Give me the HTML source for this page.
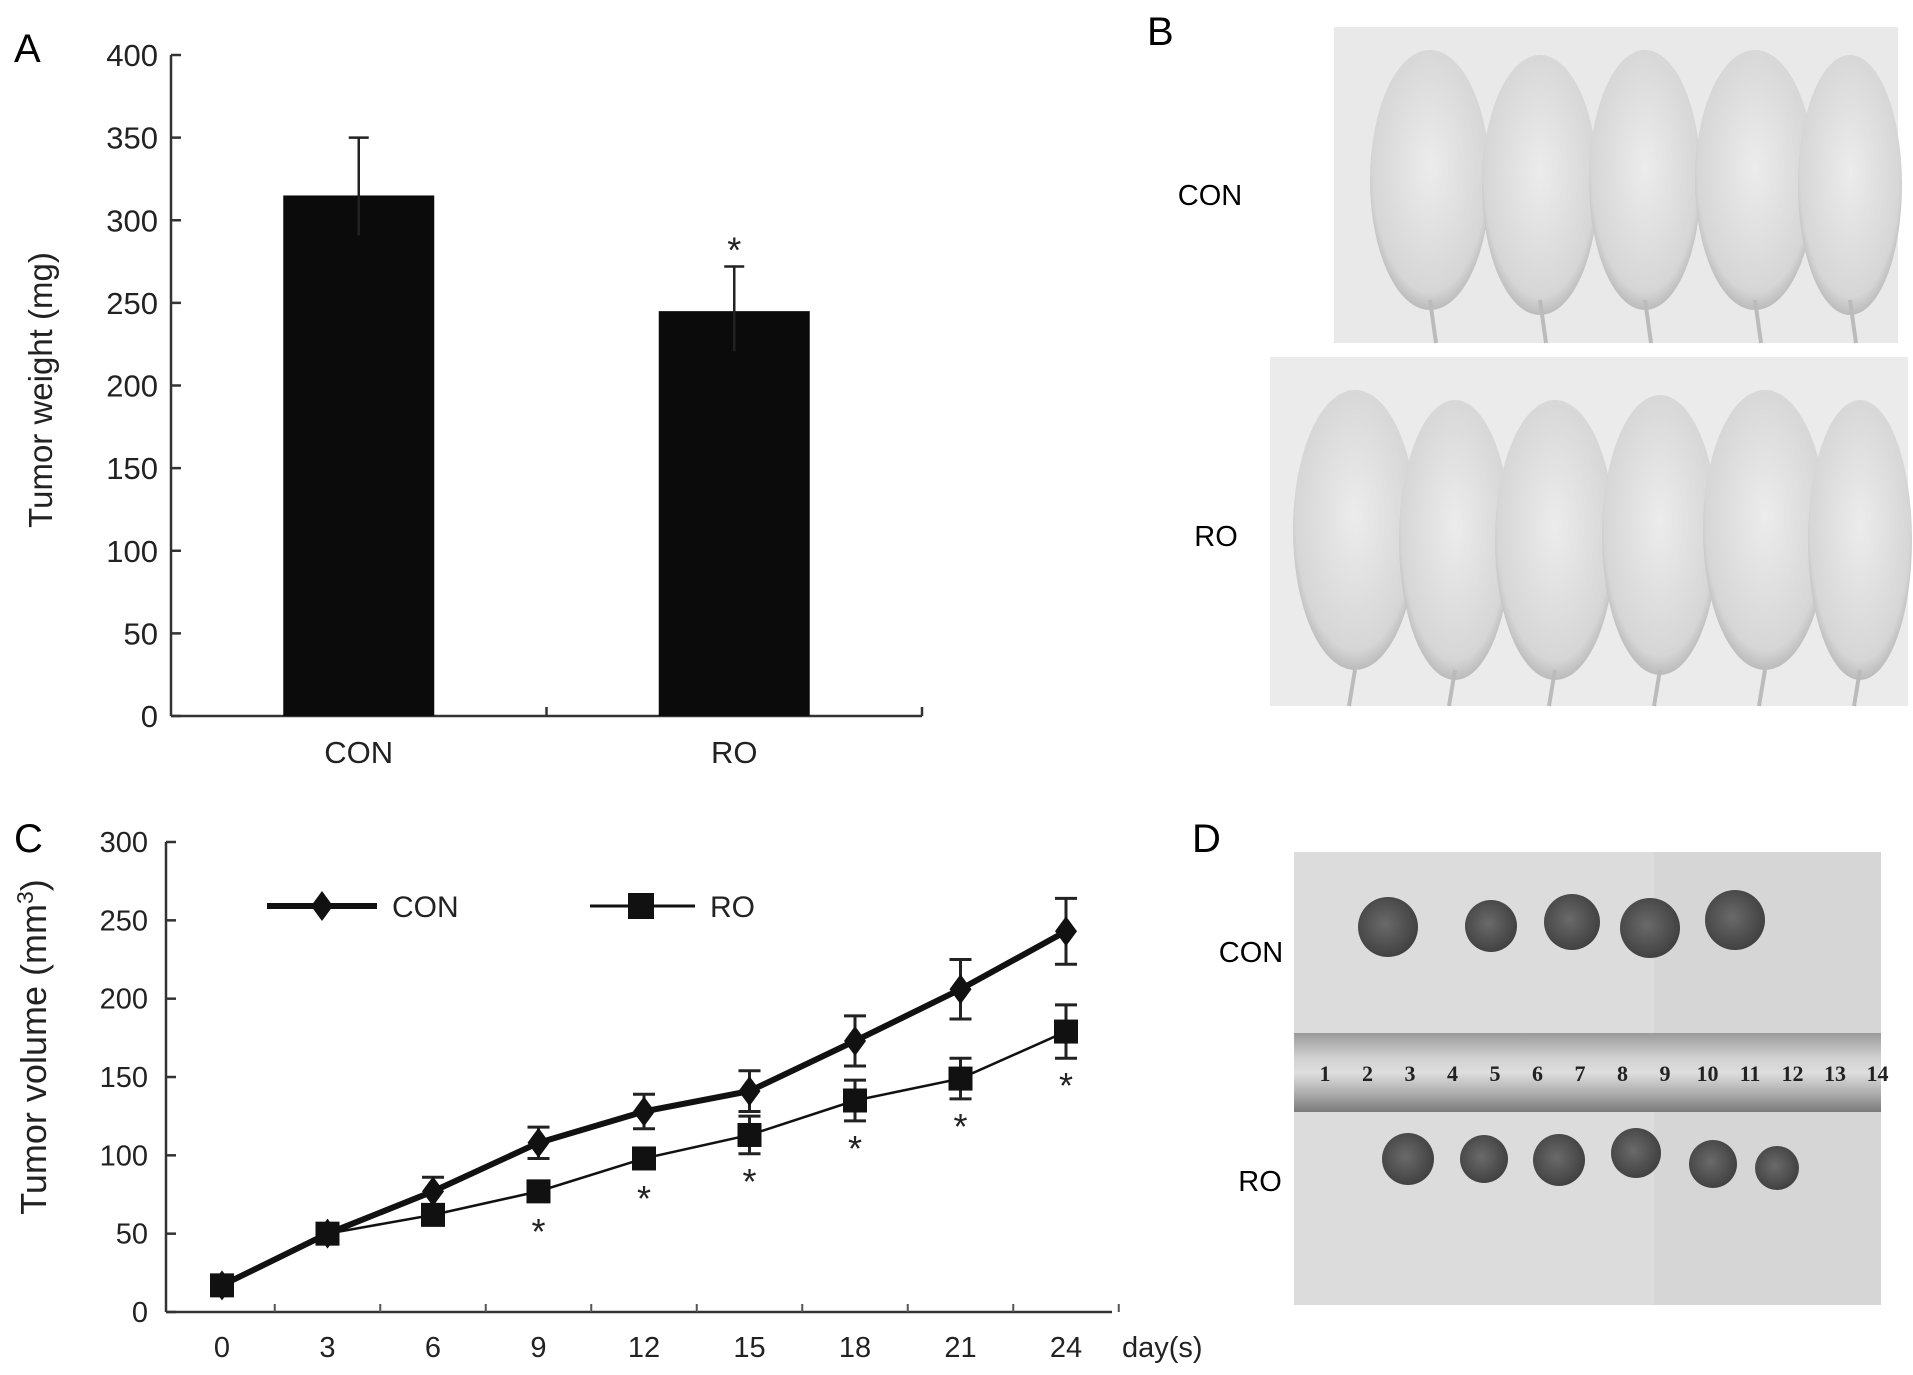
<!DOCTYPE html>
<html><head><meta charset="utf-8"><style>
html,body{margin:0;padding:0;background:#fff;}
svg{display:block;font-family:"Liberation Sans",sans-serif;}
</style></head><body>
<svg id="fig" width="1913" height="1375" viewBox="0 0 1913 1375">
<defs>
<radialGradient id="mouse" cx="50%" cy="45%" r="60%"><stop offset="0" stop-color="#ececec"/><stop offset="0.8" stop-color="#d6d6d6"/><stop offset="1" stop-color="#a8a8a8"/></radialGradient>
<radialGradient id="tum" cx="45%" cy="45%" r="60%"><stop offset="0" stop-color="#6a6a6a"/><stop offset="1" stop-color="#3e3e3e"/></radialGradient>
<linearGradient id="ruler" x1="0" y1="0" x2="0" y2="1"><stop offset="0" stop-color="#9a9a9a"/><stop offset="0.3" stop-color="#cfcfcf"/><stop offset="0.5" stop-color="#dedede"/><stop offset="0.75" stop-color="#b0b0b0"/><stop offset="1" stop-color="#7a7a7a"/></linearGradient>
</defs>

<g id="panelA"></g>
<g id="panelC"></g>

<g>
<text x="1147" y="45" font-size="40">B</text>
<text x="1210" y="205" font-size="29" text-anchor="middle">CON</text>
<text x="1216" y="546" font-size="29" text-anchor="middle">RO</text>
<rect x="1334" y="27" width="564" height="316" fill="#e9e9e9"/>
<g id="miceTop"></g>
<rect x="1270" y="357" width="638" height="349" fill="#ebebeb"/>
<g id="miceBot"></g>
</g>

<g>
<text x="1192" y="852" font-size="40">D</text>
<text x="1251" y="962" font-size="29" text-anchor="middle">CON</text>
<text x="1260" y="1191" font-size="29" text-anchor="middle">RO</text>
<rect x="1294" y="852" width="587" height="453" fill="#d6d6d6"/>
<rect x="1294" y="852" width="360" height="453" fill="#dcdcdc"/>
<rect x="1294" y="1033" width="587" height="79" fill="url(#ruler)"/>
<g id="rulerNums" font-family="Liberation Serif,serif" font-weight="bold" font-size="22" fill="#222"></g>
<g id="tumors"></g>
</g>
</svg>
<script>
const NS="http://www.w3.org/2000/svg";
function mk(parent,tag,attrs,text){const e=document.createElementNS(NS,tag);for(const k in attrs)e.setAttribute(k,attrs[k]);if(text!==undefined)e.textContent=text;parent.appendChild(e);return e;}

// ===== Panel A data =====
const barCategories=["CON","RO"];
const barValues=[315,245];
const barErrors=[35,27];
const barSig=[false,true];
const barTicks=[0,50,100,150,200,250,300,350,400];

// ===== Panel C data =====
const days=[0,3,6,9,12,15,18,21,24];
const conValues=[17,50,77,108,128,141,173,206,243];
const conErrors=[0,0,9,10,11,13,16,19,21];
const roValues=[17,50,62,77,98,113,135,149,179];
const roErrors=[0,0,0,0,0,12,13,13,17];
const roSig=[false,false,false,true,true,true,true,true,true];
const volTicks=[0,50,100,150,200,250,300];

(function(){
 const g=document.getElementById('panelA');
 const x0=171,x1=922,yTop=55,yBot=716;
 const y=v=>yBot-(v-0)/(400-0)*(yBot-yTop);
 const catW=(x1-x0)/barCategories.length;
 const cx=i=>x0+catW*(i+0.5);
 let t=mk(g,'text',{x:14,y:62,'font-size':40},'A');
 
 
 let ax=mk(g,'line',{x1:x0,y1:yTop,x2:x0,y2:yBot,stroke:'#333','stroke-width':2.5});
 
 
 let xa=mk(g,'line',{x1:x0,y1:yBot,x2:x1,y2:yBot,stroke:'#333','stroke-width':2.5});
 
 
 for(let i=1;i<=barCategories.length;i++){mk(g,'line',{x1:x0+catW*i,y1:yBot,x2:x0+catW*i,y2:yBot-9,stroke:'#333','stroke-width':2.5});}
 barTicks.forEach(v=>{
  mk(g,'line',{x1:x0,y1:y(v),x2:x0+10,y2:y(v),stroke:'#333','stroke-width':2.5});
  const l=mk(g,'text',{x:158,y:y(v)+11,'font-size':31,'text-anchor':'end',fill:'#222'},String(v));
  
  
 });
 const yt=mk(g,'text',{x:0,y:0,'font-size':33,'text-anchor':'middle',fill:'#222',transform:'translate(52,390) rotate(-90)'},'Tumor weight (mg)');
 
 
 const bw=151;
 barCategories.forEach((c,i)=>{
  const xc=cx(i);
  const b=mk(g,'rect',{x:xc-bw/2,y:y(barValues[i]),width:bw,height:yBot-y(barValues[i]),fill:'#0b0b0b'});
  
  
  const e=mk(g,'path',{d:`M${xc},${y(barValues[i])+40}V${y(barValues[i]+barErrors[i])}M${xc-10},${y(barValues[i]+barErrors[i])}H${xc+10}`,stroke:'#222','stroke-width':2.5,fill:'none'});
  
  
  const l=mk(g,'text',{x:xc,y:763,'font-size':31,'text-anchor':'middle',fill:'#222'},c);
  
  
  if(barSig[i]){
   const s=mk(g,'text',{x:xc,y:y(barValues[i]+barErrors[i])-4,'font-size':36,'text-anchor':'middle',fill:'#222'},'*');
   
   
  }
 });
})();

(function(){
 const g=document.getElementById('panelC');
 const x0=166,x1=1112,yTop=842,yBot=1312;
 const y=v=>yBot-v/300*(yBot-yTop);
 const d0=222,d1=1066;
 const x=d=>d0+(d-days[0])/(days[days.length-1]-days[0])*(d1-d0);
 const step=(d1-d0)/(days.length-1);
 let t=mk(g,'text',{x:14,y:852,'font-size':40},'C');
 
 
 let ax=mk(g,'line',{x1:x0,y1:yTop,x2:x0,y2:yBot,stroke:'#333','stroke-width':2.5});
 
 
 let xa=mk(g,'line',{x1:x0,y1:yBot,x2:x1,y2:yBot,stroke:'#333','stroke-width':2.5});
 
 
 days.forEach((d,i)=>{
  const tx=x(d)+step/2;
  mk(g,'line',{x1:tx,y1:yBot,x2:tx,y2:yBot-8,stroke:'#555','stroke-width':2});
  const l=mk(g,'text',{x:x(d),y:1357,'font-size':29,'text-anchor':'middle',fill:'#222'},String(d));
  
  
 });
 const dl=mk(g,'text',{x:1122,y:1357,'font-size':29,fill:'#222'},'day(s)');
 
 
 volTicks.forEach(v=>{
  mk(g,'line',{x1:x0,y1:y(v),x2:x0+10,y2:y(v),stroke:'#333','stroke-width':2.5});
  const l=mk(g,'text',{x:148,y:y(v)+10,'font-size':29,'text-anchor':'end',fill:'#222'},String(v));
  
  
 });
 const yt=mk(g,'text',{x:0,y:0,'font-size':36,'text-anchor':'middle',fill:'#222',transform:'translate(46,1047) rotate(-90)'});
 
 
 yt.appendChild(document.createTextNode('Tumor volume (mm'));
 mk(yt,'tspan',{'font-size':23,dy:-13},'3');
 mk(yt,'tspan',{dy:13},')');
 function errs(vals,errsA,name){
  vals.forEach((v,i)=>{
   if(!errsA[i])return;
   const xc=x(days[i]);
   const e=mk(g,'path',{d:`M${xc},${y(v-errsA[i])}V${y(v+errsA[i])}M${xc-11},${y(v+errsA[i])}H${xc+11}M${xc-11},${y(v-errsA[i])}H${xc+11}`,stroke:'#222','stroke-width':3,fill:'none'});
   
   
  });
 }
 errs(conValues,conErrors,'con');
 errs(roValues,roErrors,'ro');
 const roLine=mk(g,'polyline',{points:roValues.map((v,i)=>x(days[i])+','+y(v)).join(' '),fill:'none',stroke:'#111','stroke-width':2.5});
 
 
 const conLine=mk(g,'polyline',{points:conValues.map((v,i)=>x(days[i])+','+y(v)).join(' '),fill:'none',stroke:'#111','stroke-width':6});
 
 
 roValues.forEach((v,i)=>{
  const m=mk(g,'rect',{x:x(days[i])-12,y:y(v)-12,width:24,height:24,fill:'#111'});
  
  
  if(roSig[i]){
   const s=mk(g,'text',{x:x(days[i]),y:y(v-(roErrors[i]||8))+40,'font-size':36,'text-anchor':'middle',fill:'#222'},'*');
   
   
  }
 });
 conValues.forEach((v,i)=>{
  const xc=x(days[i]),yc=y(v);
  const m=mk(g,'path',{d:`M${xc},${yc-15}L${xc+11},${yc}L${xc},${yc+15}L${xc-11},${yc}Z`,fill:'#111'});
  
  
 });
 const lg=mk(g,'g',{});
 
 
 const le1=mk(lg,'g',{});
 
 
 mk(le1,'line',{x1:267,y1:906,x2:377,y2:906,stroke:'#111','stroke-width':6});
 mk(le1,'path',{d:'M322,891L333,906L322,921L311,906Z',fill:'#111'});
 mk(le1,'text',{x:392,y:917,'font-size':30,fill:'#222'},'CON');
 const le2=mk(lg,'g',{});
 
 
 mk(le2,'line',{x1:590,y1:906,x2:695,y2:906,stroke:'#111','stroke-width':3});
 mk(le2,'rect',{x:628,y:893,width:26,height:26,fill:'#111'});
 mk(le2,'text',{x:710,y:917,'font-size':30,fill:'#222'},'RO');
})();

(function(){
 const top=document.getElementById('miceTop');
 [[1430,180,60],[1540,185,58],[1645,180,56],[1755,180,60],[1850,185,52]].forEach(m=>{
  mk(top,'ellipse',{cx:m[0],cy:m[1],rx:m[2],ry:130,fill:'url(#mouse)'});
  mk(top,'line',{x1:m[0],y1:300,x2:m[0]+6,y2:343,stroke:'#bbb','stroke-width':4});
 });
 const bot=document.getElementById('miceBot');
 [[1355,530,62],[1455,540,56],[1555,540,60],[1660,535,58],[1765,530,62],[1860,540,52]].forEach(m=>{
  mk(bot,'ellipse',{cx:m[0],cy:m[1],rx:m[2],ry:140,fill:'url(#mouse)'});
  mk(bot,'line',{x1:m[0],y1:670,x2:m[0]-6,y2:706,stroke:'#bbb','stroke-width':4});
 });
 const rn=document.getElementById('rulerNums');
 for(let i=1;i<=14;i++){mk(rn,'text',{x:1325+(i-1)*42.5,y:1081,'text-anchor':'middle'},String(i));}
 const tm=document.getElementById('tumors');
 [[1388,927,30],[1491,926,26],[1572,922,28],[1650,928,30],[1735,920,30]].forEach(t=>mk(tm,'circle',{cx:t[0],cy:t[1],r:t[2],fill:'url(#tum)'}));
 [[1408,1159,26],[1484,1159,24],[1559,1160,26],[1636,1153,25],[1713,1164,24],[1777,1168,22]].forEach(t=>mk(tm,'circle',{cx:t[0],cy:t[1],r:t[2],fill:'url(#tum)'}));
})();
</script>
</body></html>
